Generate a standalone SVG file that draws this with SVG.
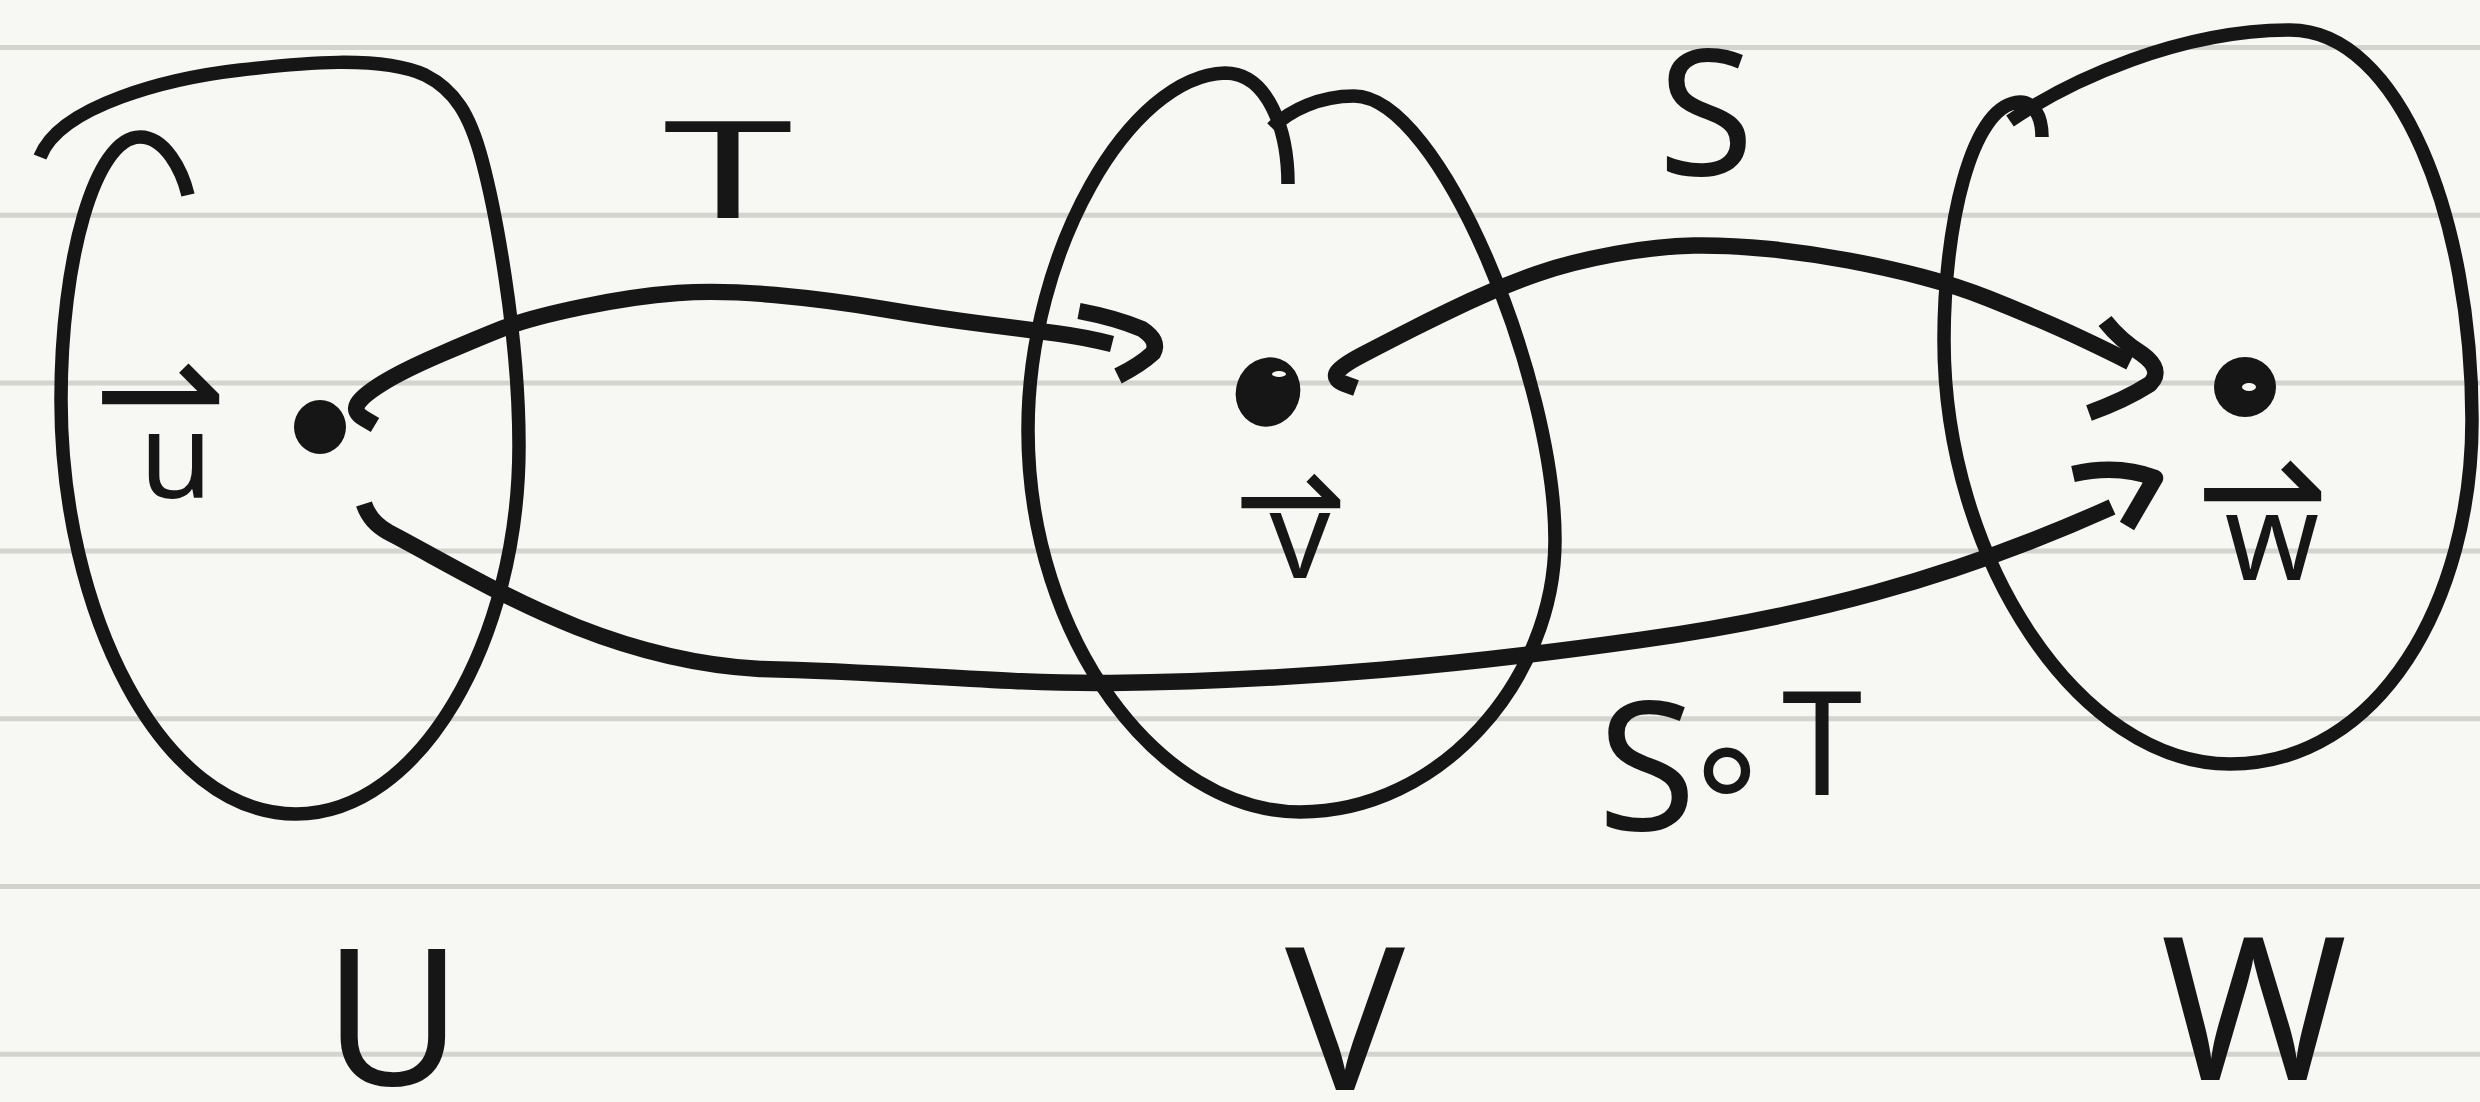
<svg xmlns="http://www.w3.org/2000/svg" width="2480" height="1102" viewBox="0 0 2480 1102">
<style>
.rule{stroke:#d3d4ce;stroke-width:5}
.set{fill:none;stroke:#161616;stroke-width:13.5;stroke-linejoin:round}
.arrow{fill:none;stroke:#161616;stroke-width:16.5;stroke-linejoin:round}
.dot{fill:#161616}
.hl{fill:#f7f8f3}
.lbl{fill:#161616;font-family:"Noto Sans","DejaVu Sans",sans-serif;text-anchor:middle}
.vec{font-family:"DejaVu Sans",sans-serif}
</style>
<rect width="2480" height="1102" fill="#f7f8f3"/>
<g id="paper">
<line class="rule" x1="0" y1="47.5" x2="2480" y2="47.5"/>
<line class="rule" x1="0" y1="215.3" x2="2480" y2="215.3"/>
<line class="rule" x1="0" y1="383.1" x2="2480" y2="383.1"/>
<line class="rule" x1="0" y1="550.9" x2="2480" y2="550.9"/>
<line class="rule" x1="0" y1="718.7" x2="2480" y2="718.7"/>
<line class="rule" x1="0" y1="886.5" x2="2480" y2="886.5"/>
<line class="rule" x1="0" y1="1054.3" x2="2480" y2="1054.3"/>
</g>
<g id="node-U">
<path class="set" d="M40,157 C60,105 170,78 240,70 C300,63 380,55 425,75 C455,90 470,115 482,160 C494,205 519,330 519,446 C519,640 420,814 296,814 C160,814 61,610 61,400 C61,260 95,137 140,137 C165,137 182,170 188,195"/>
<ellipse class="dot" cx="320" cy="427" rx="26" ry="27"/>
<text class="lbl" font-size="118"><tspan class="vec" x="160" y="448" font-size="160">⇀</tspan><tspan x="176" y="498">u</tspan></text>
<text class="lbl" x="393" y="1085" font-size="190">U</text>
</g>
<g id="node-V">
<path class="set" d="M1288,184 C1288,130 1268,73 1225,73 C1130,76 1028,250 1028,430 C1028,640 1160,812 1300,812 C1440,812 1555,680 1555,540 C1555,380 1440,96 1354,96 C1320,96 1290,110 1272,128"/>
<ellipse class="dot" cx="1268" cy="392" rx="32" ry="35" transform="rotate(20 1268 392)"/>
<ellipse class="hl" cx="1279" cy="374" rx="7" ry="3"/>
<text class="lbl" font-size="120"><tspan class="vec" x="1290" y="545" font-size="135">⇀</tspan><tspan x="1300" y="578">v</tspan></text>
<text class="lbl" x="1345" y="1090" font-size="200">V</text>
</g>
<g id="node-W">
<path class="set" d="M2042,137 C2042,115 2033,102 2020,102 C1970,104 1944,230 1944,340 C1944,560 2080,764 2230,764 C2380,764 2472,600 2472,420 C2472,220 2400,30 2290,30 C2180,30 2070,80 2010,121"/>
<ellipse class="dot" cx="2245" cy="387" rx="31" ry="30"/>
<ellipse class="hl" cx="2249" cy="387" rx="7" ry="4"/>
<text class="lbl" font-size="120"><tspan class="vec" x="2262" y="545" font-size="160">⇀</tspan><tspan x="2272" y="580">w</tspan></text>
<text class="lbl" x="2254" y="1080" font-size="200">W</text>
</g>
<g id="connectors">
<g id="edge-T">
<path class="arrow" d="M375,425 L364,418.5 Q353,412 357.5,404 Q362,396 382,383.5 Q402,371 439,355 Q476,339 502.5,328.5 Q529,318 582,307 Q635,296 677.5,293 Q720,290 775,295 Q830,300 883,309 Q936,318 983.5,324 Q1031,330 1057.5,333.5 Q1084,337 1112,344"/>
<path class="arrow" d="M1079,311 Q1116,318 1142,329 Q1160,341 1153,353 Q1140,365 1118,376"/>
<text class="lbl" x="728" y="218" font-size="135" textLength="130" lengthAdjust="spacingAndGlyphs">T</text>
</g>
<g id="edge-S">
<path class="arrow" d="M1356,388 L1345,384 Q1334,380 1336.5,373.5 Q1339,367 1362,355 Q1385,343 1411.5,329.5 Q1438,316 1470,301 Q1502,286 1536.5,274 Q1571,262 1615,254 Q1659,246 1694,245.5 Q1729,245 1769,249 Q1809,253 1848.5,260.5 Q1888,268 1922.5,277 Q1957,286 1988.5,298.5 Q2020,311 2052,325 Q2084,339 2130,362"/>
<path class="arrow" d="M2105,321 Q2120,340 2142,354 Q2164,370 2150,384 Q2125,400 2089,413"/>
<text class="lbl" x="1706" y="175" font-size="175">S</text>
</g>
<g id="edge-SoT">
<path class="arrow" d="M364,504 Q370,522 388,532 C480,580 600,660 760,669 C900,672 1000,684 1110,683 C1300,681 1470,664 1640,640 C1800,618 1950,580 2112,507"/>
<path class="arrow" d="M2073,474 Q2118,464 2155,478 L2127,526"/>
<text class="lbl" font-size="180"><tspan x="1647" y="830">S</tspan><tspan class="vec" x="1727" y="818" font-size="150">∘</tspan><tspan x="1822" y="795" font-size="145">T</tspan></text>
</g>
</g>
</svg>
